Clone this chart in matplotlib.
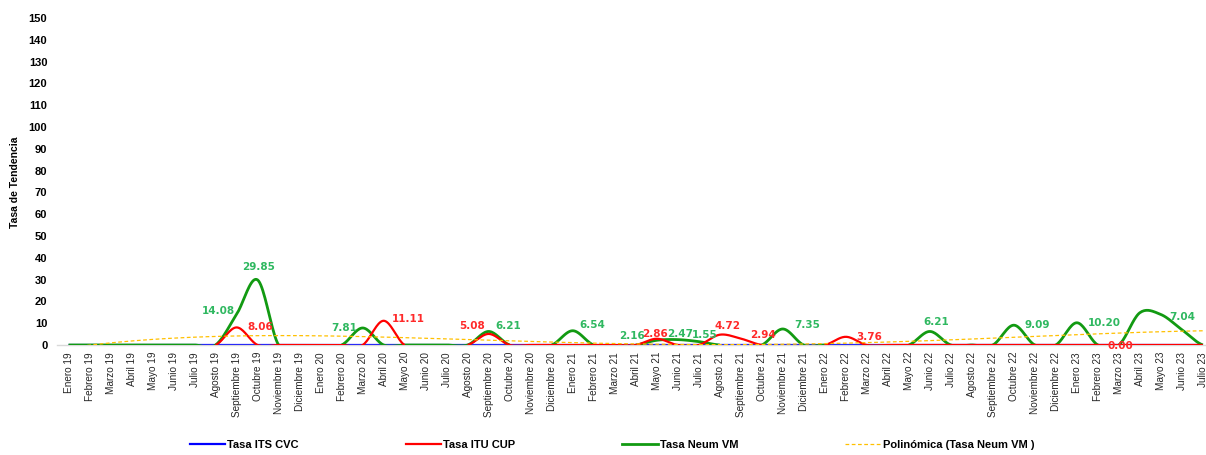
import numpy as np
import matplotlib
matplotlib.use("Agg")
import matplotlib.pyplot as plt
from matplotlib.lines import Line2D

# meses (Enero 19 .. Julio 23)
meses = ["Enero", "Febrero", "Marzo", "Abril", "Mayo", "Junio", "Julio", "Agosto",
         "Septiembre", "Octubre", "Noviembre", "Diciembre"]
categorias = [f"{m} {a}" for a in (19, 20, 21, 22) for m in meses] + \
             [f"{m} 23" for m in meses[:7]]

N = None
tasa_its_cvc = [0] * 55

tasa_itu_cup = [N, N, N, N, N, N, N, 0, 8.06, 0, 0, 0,
                0, 0, 0, 11.11, 0, N, N, 0, 5.08, 0, 0, 0,
                0, 0, 0, 0, 2.86, 0, 0, 4.72, 2.94, 0, N, N,
                0, 3.76, 0, 0, 0, 0, 0, 0, 0, 0, 0, 0,
                0, 0, 0.00, 0, 0, 0, 0]

tasa_neum_vm = [0, 0, 0, 0, 0, 0, 0, 0, 14.08, 29.85, 0, N,
                N, 0, 7.81, 0, 0, 0, 0, 0, 6.21, 0, N, 0,
                6.54, 0, N, 0, 2.16, 2.47, 1.55, 0, N, 0, 7.35, 0,
                0, N, N, N, 0, 6.21, 0, 0, 0, 9.09, 0, 0,
                10.20, 0, 0, 14.8, 14.0, 7.04, 0]

# etiquetas de datos: (serie, indice, dx px, dy px, alineacion)
etiquetas = [
    ("neum", 8, -2, 3, "right"),
    ("neum", 9, 1, 13, "center"),
    ("itu", 8, 11, 0, "left"),
    ("neum", 14, -6, 0, "right"),
    ("itu", 15, 8, 2, "left"),
    ("itu", 20, -4, 8, "right"),
    ("neum", 20, 7, 5, "left"),
    ("neum", 24, 7, 6, "left"),
    ("neum", 28, -12, 4, "right"),
    ("itu", 28, -2, 5, "center"),
    ("neum", 29, 2, 6, "center"),
    ("neum", 30, 6, 7, "center"),
    ("itu", 31, 8, 9, "center"),
    ("itu", 32, 9, 4, "left"),
    ("neum", 34, 12, 4, "left"),
    ("itu", 37, 11, 0, "left"),
    ("neum", 41, 6, 9, "center"),
    ("neum", 45, 11, 0, "left"),
    ("neum", 48, 11, 0, "left"),
    ("itu", 50, 2, -1, "center"),
    ("neum", 53, 0, 13, "center"),
]

AZUL = "#0000ff"
ROJO = "#ff0000"
VERDE = "#129a12"
VERDE_TXT = "#2fb860"
ROJO_TXT = "#ff2a2a"
NARANJA = "#ffc000"


def suavizar(xs, ys, n=20):
    # curva suavizada tipo Excel (Catmull-Rom) por tramos continuos
    xs = np.asarray(xs, float)
    ys = np.asarray(ys, float)
    out_x, out_y = [], []
    for k in range(len(xs) - 1):
        p0 = ys[k - 1] if k > 0 else ys[k]
        p1, p2 = ys[k], ys[k + 1]
        p3 = ys[k + 2] if k + 2 < len(ys) else ys[k + 1]
        t = np.linspace(0, 1, n, endpoint=False)
        c1 = p1 + (p2 - p0) / 6
        c2 = p2 - (p3 - p1) / 6
        y = (1 - t) ** 3 * p1 + 3 * (1 - t) ** 2 * t * c1 + 3 * (1 - t) * t ** 2 * c2 + t ** 3 * p2
        out_x.append(xs[k] + t * (xs[k + 1] - xs[k]))
        out_y.append(y)
    out_x.append([xs[-1]])
    out_y.append([ys[-1]])
    return np.concatenate(out_x), np.concatenate(out_y)


def dibujar(ax, valores, color, lw, z):
    x = np.arange(len(valores))
    v = np.array([np.nan if a is None else a for a in valores], float)
    ok = ~np.isnan(v)
    i = 0
    while i < len(v):
        if ok[i]:
            j = i
            while j + 1 < len(v) and ok[j + 1]:
                j += 1
            if j > i:
                sx, sy = suavizar(x[i:j + 1], v[i:j + 1])
                ax.plot(sx, sy, color=color, lw=lw, zorder=z, solid_capstyle="butt")
            i = j + 1
        else:
            i += 1


fig = plt.figure(figsize=(12.06, 4.55), dpi=100)
ax = fig.add_axes([57 / 1206, 110 / 455, 1149 / 1206, 327 / 455])

dibujar(ax, tasa_its_cvc, AZUL, 1.6, 2)
dibujar(ax, tasa_neum_vm, VERDE, 2.0, 3)
dibujar(ax, tasa_itu_cup, ROJO, 1.6, 4)

# linea de tendencia polinomica (orden 4) sobre Tasa Neum VM, vacios como cero
xv = np.arange(len(tasa_neum_vm), dtype=float)
yv = np.array([0 if a is None else a for a in tasa_neum_vm], float)
coef = np.polyfit(xv, yv, 4)
xt = np.linspace(0, len(categorias) - 1, 400)
ax.plot(xt, np.polyval(coef, xt), color=NARANJA, lw=0.9, ls=(0, (3, 2)), zorder=5)

series = {"itu": (tasa_itu_cup, ROJO_TXT), "neum": (tasa_neum_vm, VERDE_TXT)}
for s, idx, dx, dy, ha in etiquetas:
    vals, col = series[s]
    ax.annotate(f"{vals[idx]:.2f}", (idx, vals[idx]), xytext=(dx * 0.72, dy * 0.72),
                textcoords="offset points", ha=ha, va="center", color=col,
                fontsize=7.5, fontweight="bold", family="DejaVu Sans", zorder=6)

ax.set_xlim(-0.55, 54.15)
ax.set_ylim(0, 150)
ax.set_yticks(range(0, 151, 10))
ax.set_xticks(range(len(categorias)))
ax.set_xticklabels(categorias, rotation=90, fontsize=7.2, family="Liberation Sans",
                   color="#262626")
for lab in ax.get_yticklabels():
    lab.set_fontweight("bold")
    lab.set_family("Liberation Sans")
    lab.set_fontsize(8)
ax.tick_params(axis="both", length=0)
ax.tick_params(axis="y", pad=7)
ax.tick_params(axis="x", pad=5)
for lado in ("top", "right", "left"):
    ax.spines[lado].set_visible(False)
ax.spines["bottom"].set_color("#d9d9d9")
ax.spines["bottom"].set_linewidth(1.0)

fig.text(15 / 1206, 0.60, "Tasa de Tendencia", rotation=90, ha="center", va="center",
         fontsize=7.5, fontweight="bold", family="Liberation Sans")

handles = [
    Line2D([], [], color=AZUL, lw=1.6),
    Line2D([], [], color=ROJO, lw=1.6),
    Line2D([], [], color=VERDE, lw=2.0),
    Line2D([], [], color=NARANJA, lw=0.9, ls=(0, (3, 2))),
]
nombres = ["Tasa ITS CVC", "Tasa ITU CUP", "Tasa Neum VM", "Polinómica (Tasa Neum VM )"]
fig.legend(handles, nombres, loc="center", bbox_to_anchor=(612 / 1206, 10 / 455), ncol=4,
           frameon=False, handlelength=3.2, handletextpad=0.2, columnspacing=9.6,
           prop={"family": "Liberation Sans", "weight": "bold", "size": 8})

fig.savefig("out.png", dpi=100)
